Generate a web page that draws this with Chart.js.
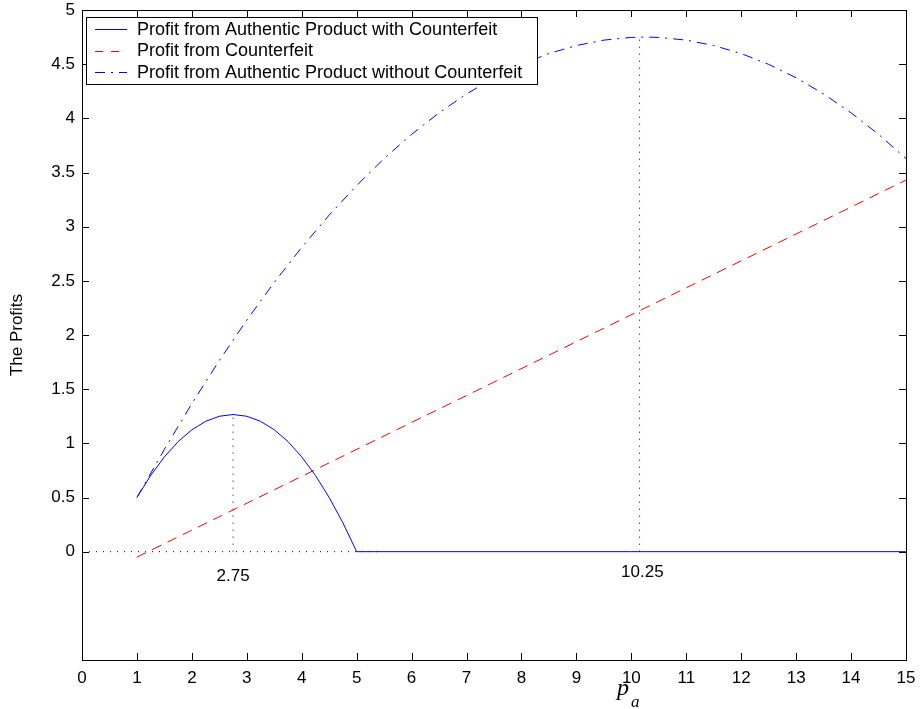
<!DOCTYPE html>
<html>
<head>
<meta charset="utf-8">
<script src="https://cdn.jsdelivr.net/npm/chart.js@4.4.1/dist/chart.umd.min.js"></script>
<style>
  body { margin: 0; background: #fff; }
  #wrap { width: 920px; height: 709px; }
</style>
</head>
<body>
<div id="wrap"><canvas id="myChart" width="920" height="709"></canvas></div>
<script>
// data
const authX = [1, 1.25, 1.5, 1.75, 2, 2.25, 2.5, 2.75, 3, 3.25, 3.5, 3.75, 4, 4.25, 4.5, 4.75, 5, 15];
const authY = [0.5, 0.703, 0.875, 1.016, 1.125, 1.203, 1.25, 1.266, 1.25, 1.203, 1.125, 1.016, 0.875, 0.703, 0.5, 0.266, 0, 0];

const cfX = [1, 15];
const cfY = [-0.05, 3.43];

const noCfX = [1, 1.5, 2, 2.5, 3, 3.5, 4, 4.5, 5, 5.5, 6, 6.5, 7, 7.5, 8, 8.5, 9, 9.5, 10, 10.25, 10.5, 11, 11.5, 12, 12.5, 13, 13.5, 14, 14.5, 15];
const noCfY = [0.5, 0.945, 1.367, 1.765, 2.138, 2.486, 2.809, 3.107, 3.38, 3.629, 3.852, 4.051, 4.225, 4.374, 4.498, 4.598, 4.672, 4.722, 4.747, 4.75, 4.747, 4.722, 4.672, 4.598, 4.498, 4.374, 4.225, 4.051, 3.852, 3.629];

// dotted guide lines
const guide1X = [2.75, 2.75];
const guide1Y = [0, 1.266];
const guide2X = [10.15, 10.15];
const guide2Y = [0, 4.75];
const guide3X = [0, 5.45];
const guide3Y = [0, 0];

const notes = [
  { x: 2.75, y: -0.23, text: '2.75' },
  { x: 10.2, y: -0.19, text: '10.25' }
];

const legendItems = [
  { label: 'Profit from Authentic Product with Counterfeit', color: '#0000ff', dash: [] },
  { label: 'Profit from Counterfeit', color: '#ff0000', dash: [8, 8] },
  { label: 'Profit from Authentic Product without Counterfeit', color: '#0000ff', dash: [10, 6, 2, 6] }
];

const xTicks = [0, 1, 2, 3, 4, 5, 6, 7, 8, 9, 10, 11, 12, 13, 14, 15];
const yTicks = [0, 0.5, 1, 1.5, 2, 2.5, 3, 3.5, 4, 4.5, 5];

function pts(xs, ys) {
  return xs.map(function (x, i) { return { x: x, y: ys[i] }; });
}

const FONT = '"Liberation Sans", Arial, Helvetica, sans-serif';
const SERIF = '"Liberation Serif", "Times New Roman", serif';

const extras = {
  id: 'extras',
  afterDatasetsDraw: function (chart) {
    const ctx = chart.ctx;
    const a = chart.chartArea;
    const xs = chart.scales.x;
    const ys = chart.scales.y;
    ctx.save();

    // notes
    ctx.fillStyle = '#000';
    ctx.font = '17px ' + FONT;
    ctx.textAlign = 'center';
    ctx.textBaseline = 'middle';
    notes.forEach(function (n) {
      ctx.fillText(n.text, xs.getPixelForValue(n.x), ys.getPixelForValue(n.y));
    });

    // box + inward ticks
    ctx.strokeStyle = '#000';
    ctx.lineWidth = 1;
    ctx.setLineDash([]);
    ctx.strokeRect(Math.round(a.left) + 0.5, Math.round(a.top) + 0.5,
      Math.round(a.right - a.left), Math.round(a.bottom - a.top));
    const tl = 7;
    ctx.beginPath();
    xTicks.forEach(function (t) {
      const px = Math.round(xs.getPixelForValue(t)) + 0.5;
      ctx.moveTo(px, a.bottom); ctx.lineTo(px, a.bottom - tl);
      ctx.moveTo(px, a.top); ctx.lineTo(px, a.top + tl);
    });
    yTicks.forEach(function (t) {
      const py = Math.round(ys.getPixelForValue(t)) + 0.5;
      ctx.moveTo(a.left, py); ctx.lineTo(a.left + tl, py);
      ctx.moveTo(a.right, py); ctx.lineTo(a.right - tl, py);
    });
    ctx.stroke();

    // legend box
    const bx = 86, by = 17, bw = 451, bh = 67;
    ctx.fillStyle = '#fff';
    ctx.fillRect(bx, by, bw, bh);
    ctx.strokeRect(bx + 0.5, by + 0.5, bw, bh);
    ctx.font = '18px ' + FONT;
    ctx.textAlign = 'left';
    ctx.textBaseline = 'middle';
    legendItems.forEach(function (it, i) {
      const yy = by + 12 + i * 21.5;
      ctx.strokeStyle = it.color;
      ctx.setLineDash(it.dash);
      ctx.beginPath();
      ctx.moveTo(95, Math.round(yy) + 0.5); ctx.lineTo(127, Math.round(yy) + 0.5);
      ctx.stroke();
      ctx.setLineDash([]);
      ctx.fillStyle = '#000';
      ctx.fillText(it.label, 137, yy + 1);
    });

    // x title p_a
    ctx.fillStyle = '#000';
    ctx.textBaseline = 'alphabetic';
    ctx.textAlign = 'left';
    ctx.font = 'italic 24px ' + SERIF;
    ctx.fillText('p', 617, 695);
    ctx.font = 'italic 17px ' + SERIF;
    ctx.fillText('a', 631, 707);
    ctx.restore();
  }
};

const config = {
  type: 'line',
  data: {
    datasets: [{
      label: 'Profit from Authentic Product with Counterfeit',
      data: pts(authX, authY),
      borderColor: '#0000ff',
      borderWidth: 1,
      pointRadius: 0,
      tension: 0
    }, {
      label: 'Profit from Counterfeit',
      data: pts(cfX, cfY),
      borderColor: '#ff0000',
      borderWidth: 1,
      borderDash: [10, 7],
      pointRadius: 0
    }, {
      label: 'Profit from Authentic Product without Counterfeit',
      data: pts(noCfX, noCfY),
      borderColor: '#0000ff',
      borderWidth: 1,
      borderDash: [10, 6, 2, 6],
      pointRadius: 0,
      tension: 0
    }, {
      label: 'g1',
      data: pts(guide1X, guide1Y),
      borderColor: '#000',
      borderWidth: 1,
      borderDash: [1, 6],
      pointRadius: 0
    }, {
      label: 'g2',
      data: pts(guide2X, guide2Y),
      borderColor: '#000',
      borderWidth: 1,
      borderDash: [1, 6],
      pointRadius: 0
    }, {
      label: 'g3',
      data: pts(guide3X, guide3Y),
      borderColor: '#000',
      borderWidth: 1,
      borderDash: [1, 6],
      pointRadius: 0
    }]
  },
  options: {
    responsive: false,
    animation: false,
    layout: { padding: { top: 10, right: 14, left: 0, bottom: 0 } },
    plugins: {
      legend: { display: false },
      tooltip: { enabled: false }
    },
    scales: {
      x: {
        type: 'linear',
        min: 0,
        max: 15,
        afterFit: function (s) { s.height = 49; s.paddingLeft = 0; s.paddingRight = 0; },
        border: { display: false },
        grid: { display: false, drawTicks: false },
        ticks: {
          stepSize: 1,
          padding: 8,
          color: '#000',
          font: { family: FONT, size: 17 }
        }
      },
      y: {
        type: 'linear',
        min: -1,
        max: 5,
        afterFit: function (s) { s.width = 82; s.paddingTop = 0; s.paddingBottom = 0; },
        border: { display: false },
        grid: { display: false, drawTicks: false },
        title: {
          display: true,
          text: 'The Profits',
          color: '#000',
          font: { family: FONT, size: 17 },
          padding: { top: 7, bottom: 0 }
        },
        ticks: {
          stepSize: 0.5,
          padding: 7,
          color: '#000',
          font: { family: FONT, size: 17 },
          callback: function (v) { return v < 0 ? '' : String(v); }
        }
      }
    }
  },
  plugins: [extras]
};

var myChart = new Chart(document.getElementById('myChart'), config);
</script>
</body>
</html>
